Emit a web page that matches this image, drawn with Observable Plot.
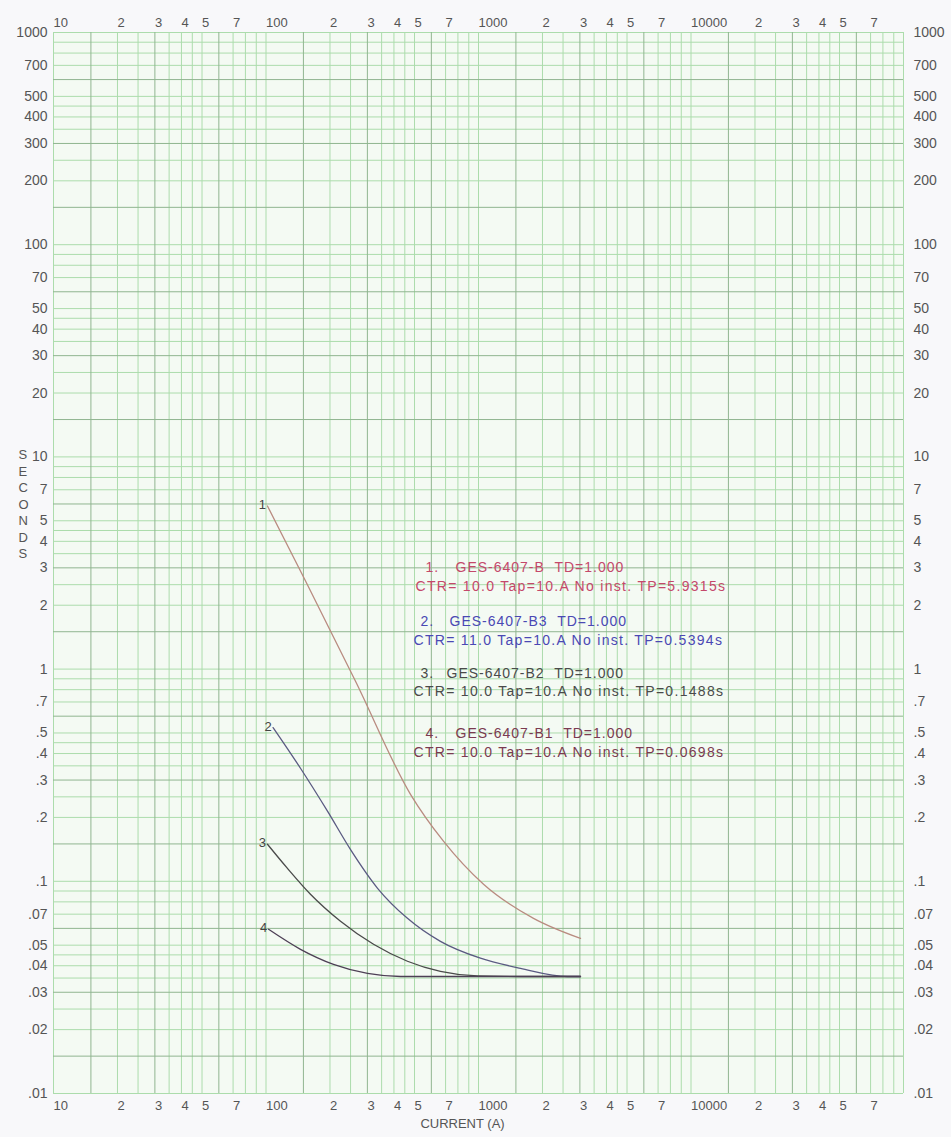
<!DOCTYPE html>
<html><head><meta charset="utf-8">
<script src="https://cdn.jsdelivr.net/npm/d3@7"></script>
<script src="https://cdn.jsdelivr.net/npm/@observablehq/plot@0.6"></script>
<style>
html,body{margin:0;padding:0;background:#f8f8fa;}
#chart{width:951px;height:1137px;}
</style></head><body><div id="chart"></div>
<script>
// ---- data ----
const curveIds = ["1", "2", "3", "4"];
const curve1Current = [101.6, 153.5, 263.8, 478.6, 684, 1056, 1815, 3020];
const curve1Time    = [5.87, 2.60, 0.877, 0.257, 0.1545, 0.0968, 0.0669, 0.0538];
const curve2Current = [108, 145.3, 194.7, 250, 335, 463, 662, 1021, 1577, 2624, 3020];
const curve2Time    = [0.53, 0.341, 0.214, 0.141, 0.0927, 0.0669, 0.0521, 0.0434, 0.0389, 0.0356, 0.0356];
const curve3Current = [101.6, 126.2, 161.9, 224.2, 320.6, 463, 662, 989, 1577, 3020];
const curve3Time    = [0.1495, 0.115, 0.0869, 0.0648, 0.0505, 0.042, 0.0376, 0.0358, 0.0356, 0.0356];
const curve4Current = [102.8, 145.3, 207.8, 300.4, 429.5, 3020];
const curve4Time    = [0.0594, 0.0478, 0.0406, 0.0368, 0.0356, 0.0356];
const curveColors   = ["#b98b80", "#5a5a82", "#4a4a4a", "#4d3f55"];

const legendNumbers = ["1.", "2.", "3.", "4."];
const legendNames   = ["GES-6407-B  TD=1.000", "GES-6407-B3  TD=1.000", "GES-6407-B2  TD=1.000", "GES-6407-B1  TD=1.000"];
const legendDetails = ["CTR= 10.0 Tap=10.A No inst. TP=5.9315s", "CTR= 11.0 Tap=10.A No inst. TP=0.5394s",
                       "CTR= 10.0 Tap=10.A No inst. TP=0.1488s", "CTR= 10.0 Tap=10.A No inst. TP=0.0698s"];
const legendColors  = ["#c4486a", "#4a48b4", "#4a4a4a", "#7a3a50"];

const xTicks = [10,20,30,40,50,70,100,200,300,400,500,700,1000,2000,3000,4000,5000,7000,10000,20000,30000,40000,50000,70000];
const yTicks = [1000,700,500,400,300,200,100,70,50,40,30,20,10,7,5,4,3,2,1,0.7,0.5,0.4,0.3,0.2,0.1,0.07,0.05,0.04,0.03,0.02,0.01];
const gridMultipliers = [1,1.5,2,2.5,3,3.5,4,4.5,5,6,7,8,9];
const darkMultipliers = [1.5,3,6];
const xDecades = [10,100,1000,10000];
const yDecades = [0.01,0.1,1,10,100];

// ---- build tables ----
const currents = [curve1Current, curve2Current, curve3Current, curve4Current];
const times = [curve1Time, curve2Time, curve3Time, curve4Time];
const points = [];
curveIds.forEach((id, i) => currents[i].forEach((c, j) => points.push({id, current: c, time: times[i][j]})));
const starts = curveIds.map((id, i) => ({id, current: currents[i][0], time: times[i][0]}));

const r = v => +v.toPrecision(6);
const gx = [], gxDark = [], gy = [], gyDark = [];
xDecades.forEach(d => gridMultipliers.forEach(m => (darkMultipliers.includes(m) ? gxDark : gx).push(r(d*m))));
gx.push(100000);
yDecades.forEach(d => gridMultipliers.forEach(m => (darkMultipliers.includes(m) ? gyDark : gy).push(r(d*m))));
gy.push(1000);

const isDecade = d => Math.abs(Math.log10(d) - Math.round(Math.log10(d))) < 1e-9;
const xFmt = d => isDecade(d) ? String(d) : String(Math.round(d / Math.pow(10, Math.floor(Math.log10(d) + 1e-9))));
const yFmt = d => d >= 1 ? String(d) : String(d).replace(/^0/, "");

const W = 951, H = 1137, ML = 53, MR = 48, MT = 32, MB = 44;
const FONT = "Liberation Sans, Arial, sans-serif";
const legendY = [[567, 586], [621, 640], [673, 691], [733, 752]];
const legendX = [[425, 455, 415], [420, 449, 413], [420, 446, 413], [425, 455, 413]];

const legendMarks = [];
legendNumbers.forEach((n, i) => {
  const common = {frameAnchor: "top-left", textAnchor: "start", lineAnchor: "middle", fill: legendColors[i], fontSize: 14, fontFamily: FONT};
  legendMarks.push(Plot.text([n], {...common, text: d => d, dx: legendX[i][0] - ML, dy: legendY[i][0] - MT}));
  legendMarks.push(Plot.text([legendNames[i]], {...common, text: d => d, dx: legendX[i][1] - ML, dy: legendY[i][0] - MT}));
  legendMarks.push(Plot.text([legendDetails[i]], {...common, text: d => d, dx: legendX[i][2] - ML, dy: legendY[i][1] - MT}));
});

const labelStyle = {fill: "#555", fontFamily: FONT};

const chart = Plot.plot({
  width: W, height: H,
  marginLeft: ML, marginRight: MR, marginTop: MT, marginBottom: MB,
  style: {background: "#f8f8fa", fontFamily: FONT, color: "#444"},
  x: {type: "log", domain: [10, 100000], axis: null},
  y: {type: "log", domain: [0.01, 1000], axis: null},
  marks: [
    Plot.frame({fill: "#f4faf3", stroke: null}),
    Plot.ruleX(gx, {stroke: "#acdcac", strokeWidth: 1}),
    Plot.ruleY(gy, {stroke: "#acdcac", strokeWidth: 1}),
    Plot.ruleX(gxDark, {stroke: "#90b590", strokeWidth: 1}),
    Plot.ruleY(gyDark, {stroke: "#90b590", strokeWidth: 1}),
    // tick labels
    Plot.text(xTicks, {...labelStyle, x: d => d, text: xFmt, frameAnchor: "top", lineAnchor: "middle", textAnchor: "start", dx: 0, dy: -10, fontSize: 13}),
    Plot.text(xTicks, {...labelStyle, x: d => d, text: xFmt, frameAnchor: "bottom", lineAnchor: "middle", textAnchor: "start", dx: 0, dy: 12, fontSize: 13}),
    Plot.text(yTicks, {...labelStyle, y: d => d, text: yFmt, frameAnchor: "left", lineAnchor: "middle", textAnchor: "end", dx: -6, fontSize: 14}),
    Plot.text(yTicks, {...labelStyle, y: d => d, text: yFmt, frameAnchor: "right", lineAnchor: "middle", textAnchor: "start", dx: 10, fontSize: 14}),
    // curves
    Plot.line(points, {x: "current", y: "time", z: "id", stroke: d => curveColors[curveIds.indexOf(d.id)], strokeWidth: 1.3, curve: "monotone-x"}),
    Plot.text(starts, {x: "current", y: "time", text: "id", dx: -5, dy: -1, fontSize: 13, fill: "#444", fontFamily: FONT}),
    ...legendMarks,
    Plot.text(["S\nE\nC\nO\nN\nD\nS"], {...labelStyle, frameAnchor: "left", text: d => d, dx: 18 - ML, dy: 503 - (MT + (H - MT - MB) / 2), lineHeight: 1.27, fontSize: 13}),
    Plot.text(["CURRENT (A)"], {...labelStyle, frameAnchor: "bottom", lineAnchor: "middle", text: d => d, dx: 462 - (ML + (W - ML - MR) / 2), dy: 30, fontSize: 13})
  ]
});
// widen the legend text like the scanned original and keep its double spaces
const legendSet = new Set([...legendNumbers, ...legendNames, ...legendDetails]);
chart.querySelectorAll("text").forEach(t => {
  if (legendSet.has(t.textContent)) {
    t.style.letterSpacing = legendDetails.includes(t.textContent) ? "1.3px" : "1px";
    t.style.whiteSpace = "pre";
    t.setAttribute("xml:space", "preserve");
  }
});
document.getElementById("chart").appendChild(chart);
</script>
</body></html>
